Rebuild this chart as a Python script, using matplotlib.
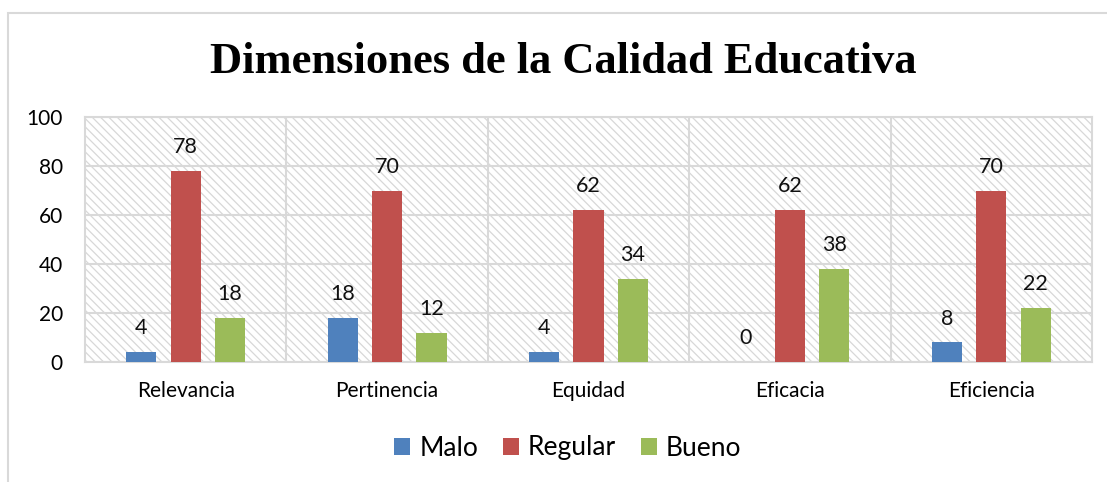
import matplotlib.pyplot as plt
import numpy as np
from matplotlib.patches import Rectangle

categories = ['Relevancia', 'Pertinencia', 'Equidad', 'Eficacia', 'Eficiencia']
malo = [4, 18, 4, 0, 8]
regular = [78, 70, 62, 62, 70]
bueno = [18, 12, 34, 38, 22]

series = [('Malo', malo, '#4f81bd'),
          ('Regular', regular, '#c0504d'),
          ('Bueno', bueno, '#9bbb59')]

plt.rcParams['font.family'] = ['Lato', 'DejaVu Sans']
plt.rcParams['hatch.linewidth'] = 0.9
plt.rcParams['hatch.color'] = '#d8d8d8'

fig = plt.figure(figsize=(11.07, 4.82), dpi=100)
ax = fig.add_axes([85/1107, 1-362/482, (1092-85)/1107, (362-117)/482])

# outer chart border
fig.patches.append(Rectangle((8/1107, -0.1), 1.2, 1.1 - 13/482,
                             transform=fig.transFigure, fill=False,
                             edgecolor='#d9d9d9', linewidth=1.5))

ax.patch.set_facecolor('white')
ax.patch.set_hatch('\\\\\\\\')
ax.patch.set_edgecolor('#d8d8d8')

x = np.arange(len(categories))
w = 0.15
step = 0.22
for i, (name, vals, col) in enumerate(series):
    pos = x + (i - 1) * step
    bars = ax.bar(pos, vals, width=w, color=col, label=name, zorder=3)
    for b, v in zip(bars, vals):
        ax.annotate(str(v), (b.get_x() + b.get_width()/2, v),
                    xytext=(0, 10), textcoords='offset points',
                    ha='center', va='bottom', fontsize=15.5, color='#111111')

ax.set_xlim(-0.5, len(categories) - 0.5)
ax.set_ylim(0, 100)
ax.set_yticks(range(0, 101, 20))
ax.set_xticks(x)
ax.set_xticklabels(categories)
ax.set_xticks(np.arange(0.5, len(categories) - 0.5, 1), minor=True)
ax.grid(axis='y', which='major', color='#d9d9d9', linewidth=1.5, zorder=1)
ax.grid(axis='x', which='minor', color='#d9d9d9', linewidth=1.5, zorder=1)
ax.set_axisbelow(True)
ax.tick_params(axis='both', which='both', length=0)
ax.tick_params(axis='y', labelsize=15, pad=16)
ax.tick_params(axis='x', labelsize=15, pad=14)
for s in ax.spines.values():
    s.set_color('#d9d9d9')
    s.set_linewidth(1.5)

fig.text(563/1107, 1-62/482, 'Dimensiones de la Calidad Educativa',
         ha='center', va='center', fontsize=32, fontweight='bold',
         family=['Liberation Serif', 'DejaVu Serif'])

fig.legend(loc='center', bbox_to_anchor=(568/1107, 1-448/482), ncol=3,
           frameon=False, fontsize=19, handlelength=0.6, handleheight=0.6,
           handletextpad=0.34, columnspacing=0.95)

fig.savefig('out.png', dpi=100)
